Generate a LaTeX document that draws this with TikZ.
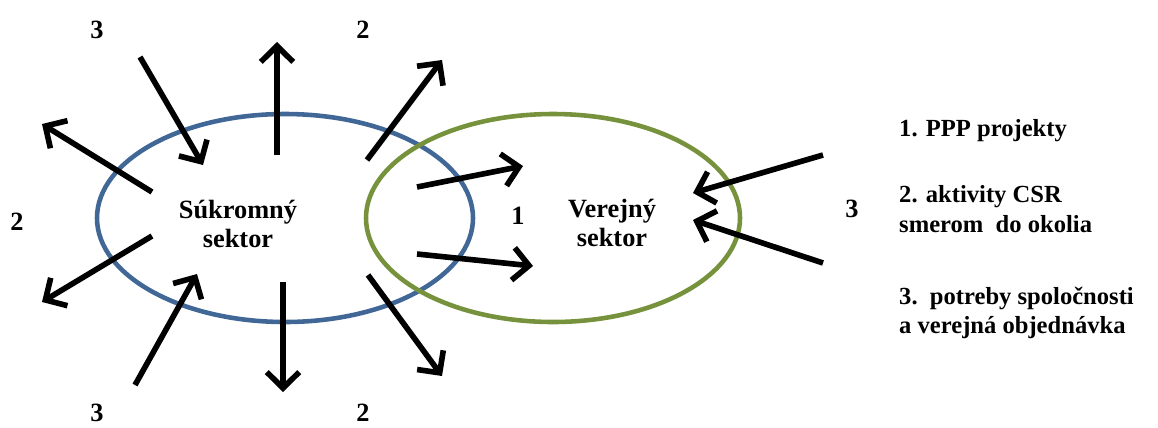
\documentclass[tikz,border=0pt]{standalone}
\usepackage{fontspec}
\setmainfont{Liberation Serif}
\usetikzlibrary{arrows.meta}
\definecolor{blueell}{RGB}{65,103,150}
\definecolor{greenell}{RGB}{118,146,60}
\tikzset{
  arr/.style={line width=3.2pt, -{Straight Barb[length=3.2mm,width=6.5mm,line width=3.2pt]}},
  lbl/.style={font=\bfseries\fontsize{15}{17}\selectfont},
  num/.style={font=\bfseries\fontsize{15}{17}\selectfont},
  leg/.style={font=\bfseries\fontsize{14}{17}\selectfont, anchor=west, align=left},
}
\begin{document}
\begin{tikzpicture}[x=0.02cm,y=-0.02cm]
\useasboundingbox (0,0) rectangle (1158,427);
\draw[blueell, line width=2.6pt] (285,218) ellipse [x radius=188, y radius=104];
\draw[greenell, line width=2.6pt] (553,218) ellipse [x radius=187, y radius=104];
\node[lbl, align=center] (pri) at (238,224) {Súkromný\\sektor};
\node[lbl, align=center] (pub) at (612,223) {Verejný\\sektor};
% arrows
\coordinate (a1s) at (140,57);  \coordinate (a1e) at (203,165);
\coordinate (a2s) at (277,155); \coordinate (a2e) at (277,42);
\coordinate (a3s) at (367,160); \coordinate (a3e) at (442,60);
\coordinate (a4s) at (152,192); \coordinate (a4e) at (42,124);
\coordinate (a5s) at (152,236); \coordinate (a5e) at (42,302);
\coordinate (a6s) at (135,385); \coordinate (a6e) at (197,274);
\coordinate (a7s) at (283,282); \coordinate (a7e) at (283,392);
\coordinate (a8s) at (368,275); \coordinate (a8e) at (442,376);
\coordinate (a9s) at (417,187); \coordinate (a9e) at (523,166);
\coordinate (b1s) at (417,254); \coordinate (b1e) at (533,266);
\coordinate (b2s) at (823,155); \coordinate (b2e) at (693,193);
\coordinate (b3s) at (823,263); \coordinate (b3e) at (693,220);
\foreach \s/\e in {a1s/a1e,a2s/a2e,a3s/a3e,a4s/a4e,a5s/a5e,a6s/a6e,a7s/a7e,a8s/a8e,a9s/a9e,b1s/b1e,b2s/b2e,b3s/b3e}
  \draw[arr] (\s) -- (\e);
% numbers
\node[num] (n1) at (97,30) {3};
\node[num] (n2) at (363,30) {2};
\node[num] (n3) at (17,222) {2};
\node[num] (n4) at (97,413) {3};
\node[num] (n5) at (363,413) {2};
\node[num] (n6) at (518,216) {1};
\node[num] (n7) at (852,209) {3};
% legend
\node[leg] (l1) at (893,131) {1. PPP projekty};
\node[leg] (l2) at (893,209) {2. aktivity CSR\\smerom\ \ do okolia};
\node[leg] (l3) at (893,313) {3.\ \ potreby\ spoločnosti\\a verejná objednávka};
\end{tikzpicture}
\end{document}
